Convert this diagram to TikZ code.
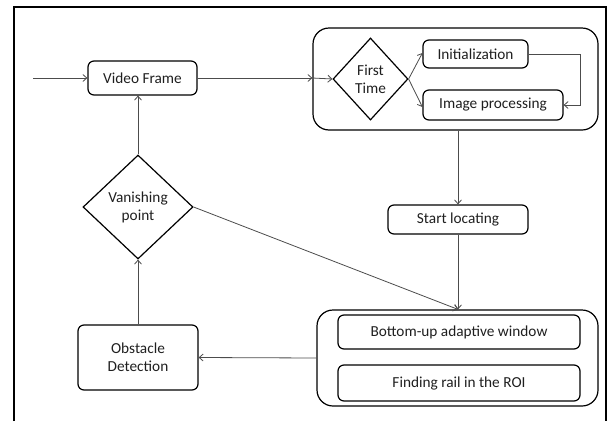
\documentclass[tikz,border=0pt]{standalone}
\usepackage{fontspec}
\setmainfont{Carlito}
\usetikzlibrary{arrows.meta,shapes.geometric,positioning}
\tikzset{
  box/.style={draw=black,line width=1.2pt,rounded corners=6pt,inner sep=0pt,align=center,font=\fontsize{15.3}{18}\selectfont,text=black!88},
  grp/.style={draw=black,line width=1.2pt,rounded corners=16pt,inner sep=0pt},
  dia/.style={draw=black,line width=1.2pt,diamond,inner sep=0pt,align=center,font=\fontsize{15.3}{18}\selectfont,text=black!88},
  conn/.style={draw=black!70,line width=0.8pt,-{Straight Barb[length=4pt,width=7pt]}},
  plain/.style={draw=black!70,line width=0.8pt},
}
\begin{document}
\begin{tikzpicture}[x=1pt,y=-1pt]
\useasboundingbox (0,0) rectangle (613,421);
% outer frame
\draw[line width=2pt] (14,421) -- (14,7) -- (606,7) -- (606,421);
% groups
\node[grp,minimum width=285pt,minimum height=102pt] (g1) at (455.5,79) {};
\node[grp,minimum width=281pt,minimum height=96pt] (g2) at (457.5,358) {};
% nodes
\node[box,minimum width=109pt,minimum height=34pt] (vf) at (142.5,78) {Video Frame};
\node[dia,minimum width=75pt,minimum height=82pt] (ft) at (370.5,79) {First\\Time};
\node[box,minimum width=105pt,minimum height=28pt] (init) at (475.5,54) {Initialization};
\node[box,minimum width=140pt,minimum height=30pt] (ip) at (493,105) {Image processing};
\node[box,minimum width=140pt,minimum height=29pt] (sl) at (458,219.5) {Start locating};
\node[box,minimum width=242pt,minimum height=34pt] (bu) at (459,332) {Bottom-up adaptive window};
\node[box,minimum width=242pt,minimum height=36pt] (fr) at (459,383) {Finding rail in the ROI};
\node[dia,minimum width=110pt,minimum height=104pt] (vp) at (138,207) {Vanishing\\point};
\node[box,minimum width=120pt,minimum height=65pt] (od) at (138,357.5) {Obstacle\\Detection};
\coordinate (in) at (33,78);
\coordinate (loop) at (580,0);
% connectors
\draw[conn] (in) -- (vf.west);
\draw[conn] (vf.east) -- (vf.east -| g1.west);
\draw[conn] (vf.east -| g1.west) -- (ft.west);
\draw[conn] (ft.east) -- ([yshift=1pt]init.west);
\draw[conn] (ft.east) -- ([yshift=-2pt]ip.west);
\draw[conn] (init.east) -- (init.east -| loop) -- (ip.east -| loop) -- (ip.east);
\draw[conn] (g1.south -| sl.north) -- (sl.north);
\draw[conn] (sl.south) -- (sl.south |- g2.north);
\draw[conn] (vp.east) -- (sl.south |- g2.north);
\draw[conn] (g2.west) -- (od.east);
\draw[conn] (od.north) -- (vp.south);
\draw[conn] (vp.north) -- (vp.north |- vf.south);
\end{tikzpicture}
\end{document}
